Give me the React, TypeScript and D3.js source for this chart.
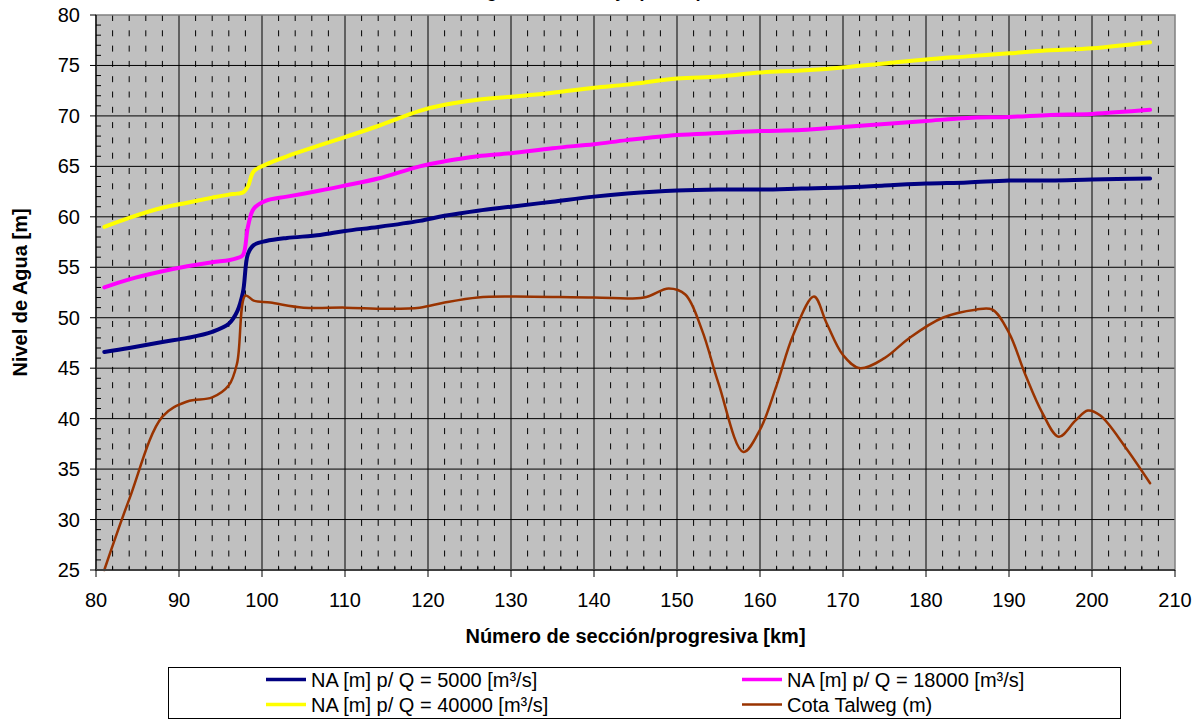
import React from "react";
import * as d3 from "d3";

// Stations (km) where the water surface profiles were computed
const stationsKm = [81, 84, 88, 91, 94, 96, 97, 97.7, 98.3, 99, 100.5, 103, 107, 110, 114, 119, 122, 126, 130, 135, 140, 144, 150, 155, 160, 165, 170, 175, 180, 185, 190, 195, 200, 207];

// Water level [m] for Q = 5000 m³/s
const na5000 = [46.6, 47.0, 47.6, 48.0, 48.6, 49.4, 50.6, 52.5, 56.3, 57.2, 57.6, 57.9, 58.2, 58.6, 59.0, 59.6, 60.1, 60.6, 61.0, 61.5, 62.0, 62.3, 62.6, 62.7, 62.7, 62.8, 62.9, 63.1, 63.3, 63.4, 63.6, 63.6, 63.7, 63.8];

// Water level [m] for Q = 18000 m³/s
const na18000 = [53.0, 53.8, 54.6, 55.1, 55.5, 55.7, 55.9, 56.2, 59.0, 60.8, 61.6, 62.0, 62.6, 63.1, 63.8, 65.0, 65.5, 66.0, 66.3, 66.8, 67.2, 67.6, 68.1, 68.3, 68.5, 68.6, 68.9, 69.2, 69.5, 69.8, 69.9, 70.1, 70.2, 70.6];

// Water level [m] for Q = 40000 m³/s
const na40000 = [59.0, 59.9, 60.9, 61.4, 61.9, 62.2, 62.3, 62.4, 63.0, 64.5, 65.2, 66.0, 67.1, 67.9, 69.0, 70.5, 71.1, 71.6, 71.9, 72.3, 72.8, 73.1, 73.7, 73.9, 74.3, 74.5, 74.8, 75.2, 75.6, 75.9, 76.2, 76.5, 76.7, 77.3];

// Thalweg survey
const talwegKm = [81, 84, 88, 91, 94, 96, 97, 98, 99, 101, 105, 110, 115, 119, 122, 126, 130, 140, 146, 149, 151, 153, 155, 158, 160, 162, 164, 166.5, 168, 170, 172, 175, 178, 182, 186, 188, 190, 192, 194, 196, 198, 199.5, 201, 204, 207];
const talwegElev = [25.0, 32.0, 40.2, 41.7, 42.1, 43.3, 45.5, 52.2, 51.7, 51.5, 51.0, 51.0, 50.9, 51.0, 51.5, 52.0, 52.1, 52.0, 52.0, 52.9, 52.3, 48.8, 43.5, 36.7, 38.9, 43.3, 48.3, 52.1, 49.5, 46.3, 45.0, 46.0, 48.0, 50.0, 50.8, 50.8, 48.5, 44.3, 40.6, 38.2, 39.8, 40.8, 40.3, 37.2, 33.6];

const xTicks = [80, 90, 100, 110, 120, 130, 140, 150, 160, 170, 180, 190, 200, 210];
const yTicks = [25, 30, 35, 40, 45, 50, 55, 60, 65, 70, 75, 80];

const seriesNames = [
  "NA [m] p/ Q = 5000 [m³/s]",
  "NA [m] p/ Q = 18000 [m³/s]",
  "NA [m] p/ Q = 40000 [m³/s]",
  "Cota Talweg (m)",
];

const W = 1204;
const H = 721;
const plot = { left: 96, right: 1175, top: 15, bottom: 570 };
const FONT = "'Liberation Sans', Arial, sans-serif";

export default function App() {
  const x = d3.scaleLinear().domain([80, 210]).range([plot.left, plot.right]);
  const y = d3.scaleLinear().domain([25, 80]).range([plot.bottom, plot.top]);

  const line = d3
    .line<[number, number]>()
    .x((d) => x(d[0]))
    .y((d) => y(d[1]))
    .curve(d3.curveCatmullRom.alpha(0.5));

  const zip = (ks: number[], vs: number[]) => ks.map((k, i) => [k, vs[i]] as [number, number]);

  const series = [
    { name: seriesNames[0], color: "#000080", width: 4, pts: zip(stationsKm, na5000) },
    { name: seriesNames[1], color: "#FF00FF", width: 4, pts: zip(stationsKm, na18000) },
    { name: seriesNames[2], color: "#FFFF00", width: 4, pts: zip(stationsKm, na40000) },
    { name: seriesNames[3], color: "#993300", width: 2.5, pts: zip(talwegKm, talwegElev) },
  ];

  const minorX = d3.range(82, 210, 2).filter((v) => v % 10 !== 0);
  const minorY = d3.range(26, 80, 1).filter((v) => v % 5 !== 0);

  // legend layout: two columns, two rows
  const legendItems = [
    { s: series[0], lx: 266, row: 0 },
    { s: series[1], lx: 742, row: 0 },
    { s: series[2], lx: 266, row: 1 },
    { s: series[3], lx: 742, row: 1 },
  ];

  return (
    <svg
      width={W}
      height={H}
      style={{ position: "absolute", left: 0, top: 0, background: "#fff" }}
      fontFamily={FONT}
    >
      {/* chart title sits above the top edge, only its descenders fall inside */}
      <text x={398} y={-3.5} fontSize={18} fontWeight="bold" fill="#000">
        Perfil de Agua - Tramo Bajo (msnm)
      </text>

      {/* plot area */}
      <rect
        x={plot.left}
        y={plot.top}
        width={plot.right - plot.left}
        height={plot.bottom - plot.top}
        fill="#C0C0C0"
      />

      {/* minor dashed verticals */}
      {minorX.map((v) => (
        <line
          key={"mx" + v}
          x1={x(v)}
          x2={x(v)}
          y1={plot.top}
          y2={plot.bottom}
          stroke="#000"
          strokeWidth={1}
          strokeDasharray="6 9.3"
        />
      ))}

      {/* major gridlines */}
      {yTicks.slice(1, -1).map((v) => (
        <line key={"gy" + v} x1={plot.left} x2={plot.right} y1={y(v)} y2={y(v)} stroke="#000" strokeWidth={1} />
      ))}
      {xTicks.slice(1, -1).map((v) => (
        <line key={"gx" + v} x1={x(v)} x2={x(v)} y1={plot.top} y2={plot.bottom} stroke="#000" strokeWidth={1} />
      ))}

      {/* border */}
      <rect
        x={plot.left}
        y={plot.top}
        width={plot.right - plot.left}
        height={plot.bottom - plot.top}
        fill="none"
        stroke="#808080"
        strokeWidth={1.5}
      />

      {/* series */}
      {series.map((s) => (
        <path
          key={s.name}
          d={line(s.pts) || ""}
          fill="none"
          stroke={s.color}
          strokeWidth={s.width}
          strokeLinejoin="round"
          strokeLinecap="round"
        />
      ))}

      {/* y axis */}
      <line x1={plot.left} x2={plot.left} y1={plot.top} y2={plot.bottom} stroke="#000" strokeWidth={1.3} />
      {minorY.map((v) => (
        <line key={"my" + v} x1={plot.left} x2={plot.left + 5} y1={y(v)} y2={y(v)} stroke="#000" strokeWidth={1} />
      ))}
      {yTicks.map((v) => (
        <g key={"yt" + v}>
          <line x1={plot.left - 6} x2={plot.left} y1={y(v)} y2={y(v)} stroke="#000" strokeWidth={1} />
          <text x={80} y={y(v)} textAnchor="end" dominantBaseline="central" fontSize={20} fill="#000">
            {v}
          </text>
        </g>
      ))}

      {/* x axis */}
      <line x1={plot.left} x2={plot.right} y1={plot.bottom} y2={plot.bottom} stroke="#404040" strokeWidth={2} />
      {minorX.map((v) => (
        <line key={"mxt" + v} x1={x(v)} x2={x(v)} y1={plot.bottom - 3} y2={plot.bottom} stroke="#000" strokeWidth={1} />
      ))}
      {xTicks.map((v) => (
        <g key={"xt" + v}>
          <line x1={x(v)} x2={x(v)} y1={plot.bottom} y2={plot.bottom + 7} stroke="#000" strokeWidth={1} />
          <text x={x(v)} y={607} textAnchor="middle" fontSize={20} fill="#000">
            {v}
          </text>
        </g>
      ))}

      {/* axis titles */}
      <text x={(plot.left + plot.right) / 2} y={643} textAnchor="middle" fontSize={20} fontWeight="bold" fill="#000">
        Número de sección/progresiva [km]
      </text>
      <text
        transform={`translate(27, ${(plot.top + plot.bottom) / 2}) rotate(-90)`}
        textAnchor="middle"
        fontSize={20}
        fontWeight="bold"
        fill="#000"
      >
        Nivel de Agua [m]
      </text>

      {/* legend */}
      <rect x={168.5} y={667.5} width={952} height={51} fill="#fff" stroke="#000" strokeWidth={1} />
      {legendItems.map(({ s, lx, row }) => {
        const cy = 679.5 + row * 25;
        return (
          <g key={"lg" + s.name}>
            <line x1={lx} x2={lx + 40} y1={cy} y2={cy} stroke={s.color} strokeWidth={s.width === 4 ? 3.5 : 2.5} />
            <text x={lx + 45} y={cy + 7.5} fontSize={20} fill="#000">
              {s.name}
            </text>
          </g>
        );
      })}
    </svg>
  );
}
